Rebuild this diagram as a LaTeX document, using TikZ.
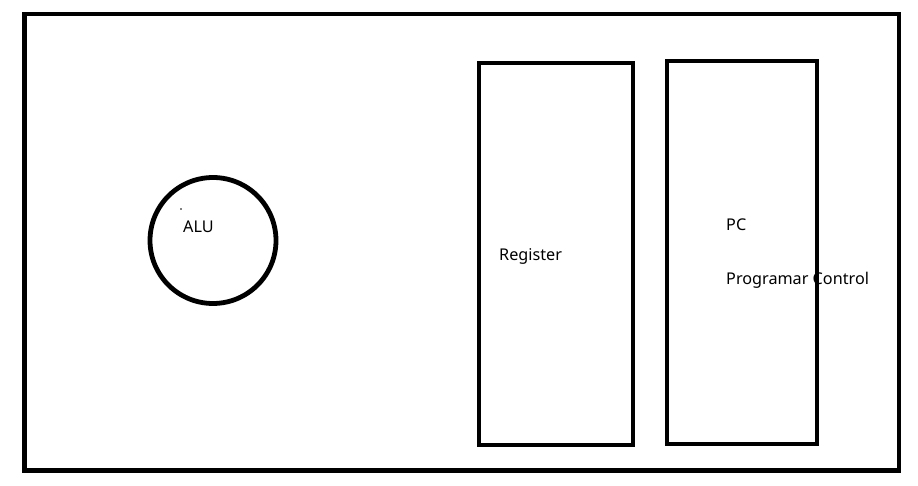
\documentclass[tikz,border=0pt]{standalone}
\usepackage{fontspec}
\setmainfont{Noto Sans}
\begin{document}
\begin{tikzpicture}[x=1pt,y=-1pt,
  box/.style={draw=black,line width=4.8pt},
  lbl/.style={anchor=base west,inner sep=0pt,font=\fontsize{16.2}{19}\selectfont}]
\useasboundingbox (0,0) rectangle (918,486);
\fill[white] (0,0) rectangle (918,486);
\draw[box] (24.5,14) rectangle (899,470.5);
\node[box,circle,minimum size=126pt,inner sep=0pt] (alu) at (213,240.5) {};
\node[box,rectangle,minimum width=154pt,minimum height=382pt,inner sep=0pt] (reg) at (556,254) {};
\node[box,rectangle,minimum width=150pt,minimum height=383pt,inner sep=0pt] (pc) at (742,252.5) {};
\node[lbl] (alut) at (183,233) {ALU};
\node[lbl] (regt) at (499,261) {Register};
\node[lbl] (pct) at (726,231) {PC};
\node[lbl] (pcct) at (726,285) {Programar Control};
\fill (181,209) circle (0.8pt);
\end{tikzpicture}
\end{document}
